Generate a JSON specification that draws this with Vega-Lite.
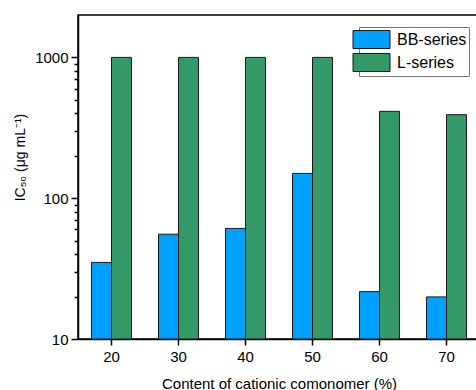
{
  "$schema": "https://vega.github.io/schema/vega-lite/v6.json",
  "width": 402,
  "height": 324,
  "autosize": {"type": "none"},
  "padding": {"left": 78, "top": 15, "right": 0, "bottom": 51},
  "background": "white",
  "config": {
    "font": "Liberation Sans",
    "view": {"stroke": "#000", "strokeWidth": 1.5},
    "axis": {"labelColor": "#000", "titleColor": "#000", "titleFontWeight": "normal", "domainColor": "#000", "tickColor": "#000", "domainWidth": 1.5, "tickWidth": 1.5, "grid": false}
  },
  "data": {
    "values": [
      {"content": "20", "series": "BB-series", "ic50": 35},
      {"content": "20", "series": "L-series", "ic50": 1000},
      {"content": "30", "series": "BB-series", "ic50": 55.5},
      {"content": "30", "series": "L-series", "ic50": 1000},
      {"content": "40", "series": "BB-series", "ic50": 61},
      {"content": "40", "series": "L-series", "ic50": 1000},
      {"content": "50", "series": "BB-series", "ic50": 150},
      {"content": "50", "series": "L-series", "ic50": 1000},
      {"content": "60", "series": "BB-series", "ic50": 21.7},
      {"content": "60", "series": "L-series", "ic50": 414},
      {"content": "70", "series": "BB-series", "ic50": 19.9},
      {"content": "70", "series": "L-series", "ic50": 392}
    ]
  },
  "mark": {"type": "bar", "stroke": "#1a1a1a", "strokeWidth": 1},
  "encoding": {
    "x": {
      "field": "content",
      "type": "ordinal",
      "sort": null,
      "scale": {"paddingInner": 0.403, "paddingOuter": 0.2015},
      "axis": {
        "title": "Content of cationic comonomer (%)",
        "titleFontSize": 15,
        "titleBaseline": "alphabetic",
        "titleY": 49,
        "labelAngle": 0,
        "labelFontSize": 15,
        "labelPadding": 4,
        "tickSize": 6
      }
    },
    "xOffset": {"field": "series", "type": "nominal", "scale": {"paddingInner": 0, "paddingOuter": 0}},
    "y": {
      "field": "ic50",
      "type": "quantitative",
      "scale": {"type": "log", "domain": [10, 2000], "nice": false},
      "axis": {
        "title": "IC₅₀ (μg mL⁻¹)",
        "titleFontSize": 14,
        "titleX": -58,
        "titleY": 142,
        "titleAngle": -90,
        "titleBaseline": "middle",
        "titleAlign": "center",
        "values": [10, 20, 30, 40, 50, 60, 70, 80, 90, 100, 200, 300, 400, 500, 600, 700, 800, 900, 1000],
        "format": "d",
        "labelExpr": "datum.value == 10 || datum.value == 100 || datum.value == 1000 ? datum.label : ''",
        "tickSize": {"condition": {"test": "datum.value == 10 || datum.value == 100 || datum.value == 1000", "value": 7}, "value": 4},
        "labelFontSize": 15,
        "labelPadding": 3
      }
    },
    "y2": {"datum": 10},
    "color": {
      "field": "series",
      "type": "nominal",
      "scale": {"domain": ["BB-series", "L-series"], "range": ["#00a0ff", "#339966"]},
      "legend": {
        "title": null,
        "orient": "none",
        "legendX": 281,
        "legendY": 12,
        "padding": 2,
        "strokeColor": "#777",
        "symbolType": "M-1.85,-0.9H1.85V0.9H-1.85Z",
        "symbolSize": 400,
        "symbolStrokeColor": "#1a1a1a",
        "symbolStrokeWidth": 1,
        "symbolOpacity": 1,
        "labelFontSize": 16,
        "labelOffset": 15,
        "labelColor": "#000",
        "rowPadding": 0
      }
    }
  }
}
